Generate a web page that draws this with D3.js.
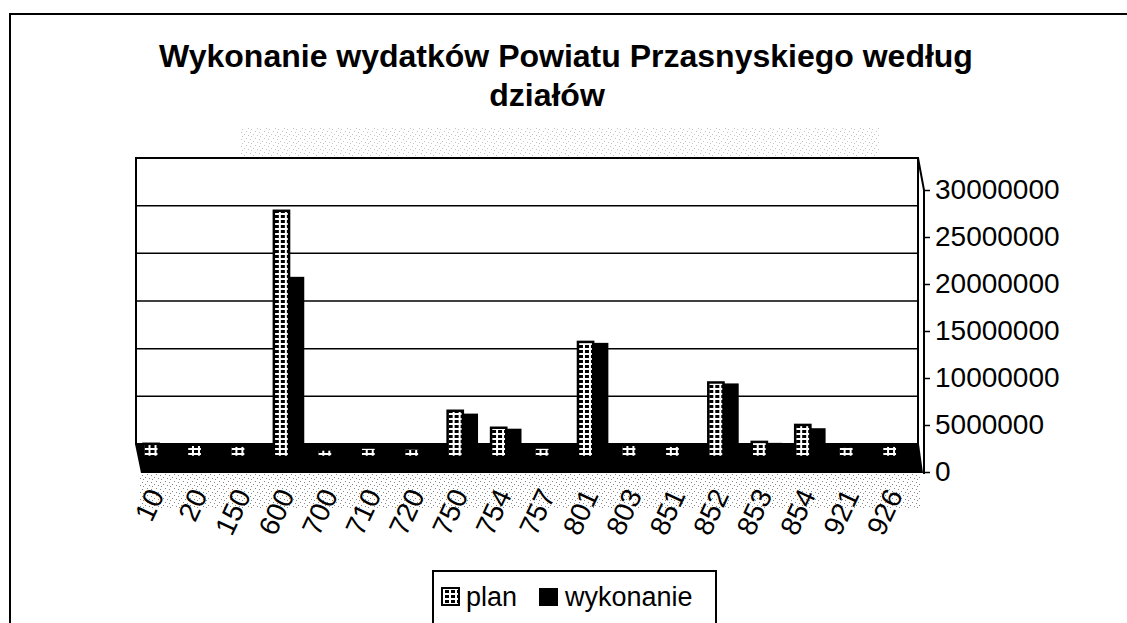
<!DOCTYPE html>
<html>
<head>
<meta charset="utf-8">
<script src="https://cdn.jsdelivr.net/npm/d3@7"></script>
<style>
  body { margin: 0; background: #fff; }
  text { font-family: "Liberation Sans", Arial, sans-serif; fill: #000; }
</style>
</head>
<body>
<div id="chart"></div>
<script>
// Data
const categories = ["10", "20", "150", "600", "700", "710", "720", "750", "754", "757",
                    "801", "803", "851", "852", "853", "854", "921", "926"];
const planValues = [1400000, 1300000, 1200000, 26100000, 800000, 1000000, 900000, 4900000, 3100000, 1000000,
                    12200000, 1300000, 1200000, 7900000, 1600000, 3400000, 1100000, 1200000];
const wykonanieValues = [1100000, 900000, 1000000, 19100000, 600000, 800000, 700000, 4600000, 3000000, 800000,
                         12100000, 1100000, 1000000, 7800000, 1500000, 3050000, 900000, 1000000];
const yTicks = [0, 5000000, 10000000, 15000000, 20000000, 25000000, 30000000];
const seriesNames = ["plan", "wykonanie"];

const width = 1127, height = 623;
const wall = {left: 137, right: 919, top: 158, bottom: 444};

const svg = d3.select("#chart").append("svg")
    .attr("width", width)
    .attr("height", height);

const defs = svg.append("defs");

// speckled fill used by the "plan" series
const pat = defs.append("pattern")
    .attr("id", "planFill")
    .attr("width", 6).attr("height", 5)
    .attr("patternUnits", "userSpaceOnUse");
pat.append("rect").attr("width", 6).attr("height", 5).attr("fill", "#fff");
pat.append("rect").attr("x", 1).attr("y", 0).attr("width", 4).attr("height", 3).attr("fill", "#000");

// grey scanner noise
const noise = defs.append("pattern")
    .attr("id", "noise")
    .attr("width", 9).attr("height", 7)
    .attr("patternUnits", "userSpaceOnUse");
[[1, 1], [5, 2], [3, 5], [7, 6], [8, 3]].forEach(p => {
    noise.append("rect").attr("x", p[0]).attr("y", p[1])
        .attr("width", 1).attr("height", 1).attr("fill", "#555");
});

// Scales
const x = d3.scaleBand()
    .domain(categories)
    .range([wall.left, wall.right])
    .paddingInner(0.3)
    .paddingOuter(0.15);

const xSub = d3.scaleBand()
    .domain(seriesNames)
    .range([0, x.bandwidth()]);

const yBack = d3.scaleLinear().domain([0, 30000000]).range([wall.bottom, wall.top]);
const yBar = d3.scaleLinear().domain([0, 30000000]).range([457, 174]);
const yFront = d3.scaleLinear().domain([0, 30000000]).range([472, 190]);

// outer frame (top and left edge of the scanned page)
svg.append("path")
    .attr("d", "M10,623 L10,14 L1127,14")
    .attr("fill", "none")
    .attr("stroke", "#000")
    .attr("stroke-width", 2);

// Title
const title = svg.append("text")
    .attr("text-anchor", "middle")
    .style("font-size", "32px")
    .style("font-weight", "bold");
title.append("tspan").attr("x", 566).attr("y", 67)
    .text("Wykonanie wydatków Powiatu Przasnyskiego według");
title.append("tspan").attr("x", 547).attr("y", 106)
    .text("działów");

// noise bands
svg.append("rect").attr("x", 240).attr("y", 128).attr("width", 640).attr("height", 28)
    .attr("fill", "url(#noise)").attr("opacity", 0.35);
svg.append("rect").attr("x", 140).attr("y", 472).attr("width", 780).attr("height", 36)
    .attr("fill", "url(#noise)").attr("opacity", 0.7);

// back wall
svg.append("rect")
    .attr("x", wall.left - 1).attr("y", wall.top)
    .attr("width", wall.right - wall.left)
    .attr("height", wall.bottom - wall.top)
    .attr("fill", "#fff")
    .attr("stroke", "#000")
    .attr("stroke-width", 2);

// gridlines
svg.append("g")
    .selectAll("line")
    .data(yTicks.slice(1, -1))
    .enter().append("line")
    .attr("x1", wall.left)
    .attr("x2", wall.right - 1)
    .attr("y1", d => yBack(d))
    .attr("y2", d => yBack(d))
    .attr("stroke", "#000")
    .attr("stroke-width", 1.5);

// floor
svg.append("path")
    .attr("d", `M${wall.left - 2},${wall.bottom} L${wall.right},${wall.bottom} L${wall.right + 4},473 L${wall.left + 4},473 Z`)
    .attr("fill", "#000");

// bars
const groups = svg.append("g")
    .selectAll("g")
    .data(categories.map((c, i) => ({cat: c, plan: planValues[i], wykonanie: wykonanieValues[i]})))
    .enter().append("g")
    .attr("transform", d => "translate(" + x(d.cat) + ",0)");

groups.append("rect")
    .attr("x", xSub("wykonanie"))
    .attr("width", xSub.bandwidth())
    .attr("y", d => yBar(d.wykonanie))
    .attr("height", d => yBar(0) - yBar(d.wykonanie))
    .attr("fill", "#000");

groups.append("rect")
    .attr("x", xSub("plan"))
    .attr("width", xSub.bandwidth())
    .attr("y", d => yBar(d.plan))
    .attr("height", d => yBar(0) - yBar(d.plan))
    .attr("fill", "url(#planFill)")
    .attr("stroke", "#000")
    .attr("stroke-width", 2.5);

// right side wall edge + value axis
svg.append("path")
    .attr("d", `M${wall.right - 1},${wall.top} L${wall.right + 5},${yFront(30000000)} L${wall.right + 5},${yFront(0) + 2}`)
    .attr("fill", "none")
    .attr("stroke", "#000")
    .attr("stroke-width", 2);

const yAxis = d3.axisRight(yFront)
    .tickValues(yTicks)
    .tickFormat(d3.format("d"))
    .tickSize(6)
    .tickPadding(5);

svg.append("g")
    .attr("transform", "translate(" + (wall.right + 5) + ",0)")
    .call(yAxis)
    .call(g => g.select(".domain").remove())
    .call(g => g.selectAll("line").attr("stroke", "#000").attr("stroke-width", 1.5))
    .call(g => g.selectAll("text")
        .style("font-size", "28px")
        .attr("fill", "#000"));

// category labels
svg.append("g")
    .selectAll("text")
    .data(categories)
    .enter().append("text")
    .attr("transform", d => "translate(" + (x(d) + x.bandwidth() / 2 + 6) + ",495) rotate(-65)")
    .attr("text-anchor", "end")
    .style("font-size", "28px")
    .text(d => d);

// legend
const legend = svg.append("g");
legend.append("rect")
    .attr("x", 433).attr("y", 571)
    .attr("width", 283).attr("height", 60)
    .attr("fill", "#fff")
    .attr("stroke", "#000")
    .attr("stroke-width", 2);

legend.append("rect")
    .attr("x", 442).attr("y", 588).attr("width", 17).attr("height", 17)
    .attr("fill", "url(#planFill)")
    .attr("stroke", "#000").attr("stroke-width", 2);
legend.append("text")
    .attr("x", 466).attr("y", 606)
    .style("font-size", "27px")
    .text("plan");

legend.append("rect")
    .attr("x", 539).attr("y", 588).attr("width", 19).attr("height", 18)
    .attr("fill", "#000");
legend.append("text")
    .attr("x", 565).attr("y", 606)
    .style("font-size", "27px")
    .text("wykonanie");
</script>
</body>
</html>
